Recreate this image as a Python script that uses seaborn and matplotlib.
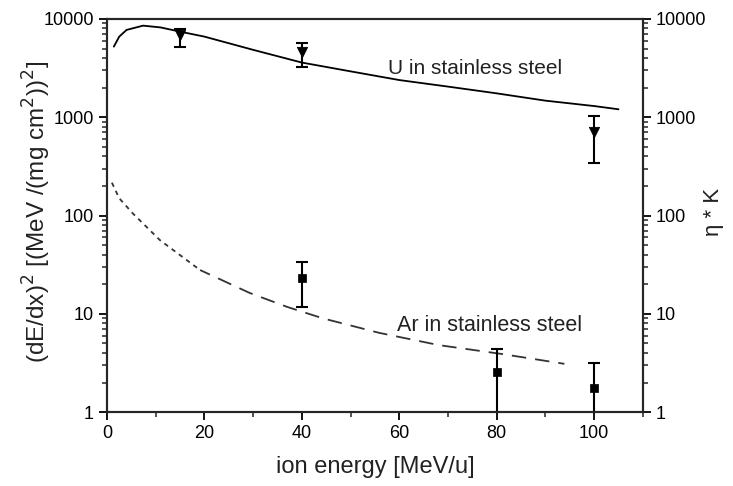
import numpy as np
import pandas as pd
import matplotlib
matplotlib.use("Agg")
import matplotlib.pyplot as plt
import matplotlib.ticker as mticker
import seaborn as sns

# Curves (ion energy in MeV/u)
u_curve_x = [1.4, 2.5, 4, 7.4, 11, 15, 20, 30, 40, 50, 60, 70, 80, 90, 100, 105]
u_curve_y = [5230, 6600, 7730, 8550, 8200, 7430, 6610, 4850, 3600, 2930, 2390, 2050, 1750, 1475, 1300, 1205]

ar_curve_x = [1.0, 2.5, 5.3, 10.9, 19.1, 29.3, 36.9, 44.3, 55.9, 68.2, 81.1, 93.9]
ar_curve_y = [216, 150, 105, 56, 27.9, 16.3, 11.8, 9.0, 6.4, 4.8, 3.9, 3.1]

# Measured points with error bars
u_pts_x = [15, 40, 100]
u_pts_y = [6880, 4650, 713]
u_err_lo = [5230, 3270, 345]
u_err_hi = [7900, 5740, 1030]

ar_pts_x = [40, 80, 100]
ar_pts_y = [23, 2.57, 1.78]
ar_err_lo = [11.8, 0.3, 0.3]
ar_err_hi = [33.4, 4.35, 3.13]

y_ticks = [1, 10, 100, 1000, 10000]
x_ticks = [0, 20, 40, 60, 80, 100]

sns.set_theme(style="ticks")
plt.rcParams['font.family'] = ['Liberation Sans', 'DejaVu Sans']

fig = plt.figure(figsize=(7.33, 4.86), dpi=100)
ax = fig.add_axes([0.146, 0.152, 0.731, 0.809])

u_df = pd.DataFrame({'E': u_curve_x, 'val': u_curve_y})
ar_df = pd.DataFrame({'E': ar_curve_x, 'val': ar_curve_y})
sns.lineplot(data=u_df, x='E', y='val', ax=ax, color='black', lw=1.3, sort=False)
# the Ar curve: fine dashes near the start, longer dashes further out
sns.lineplot(data=ar_df[ar_df['E'] <= 19.1], x='E', y='val', ax=ax, color='#333333',
             lw=1.3, sort=False, linestyle=(0, (2.5, 2.5)))
sns.lineplot(data=ar_df[ar_df['E'] >= 19.1], x='E', y='val', ax=ax, color='#333333',
             lw=1.3, sort=False, linestyle=(2, (8, 5)))

# error bars
u_yerr = [np.array(u_pts_y) - np.array(u_err_lo), np.array(u_err_hi) - np.array(u_pts_y)]
ar_yerr = [np.array(ar_pts_y) - np.array(ar_err_lo), np.array(ar_err_hi) - np.array(ar_pts_y)]
ax.errorbar(u_pts_x, u_pts_y, yerr=u_yerr, fmt='none', ecolor='black',
            elinewidth=1.5, capsize=4, capthick=1.5)
ax.errorbar(ar_pts_x, ar_pts_y, yerr=ar_yerr, fmt='none', ecolor='black',
            elinewidth=1.5, capsize=4, capthick=1.5)
sns.scatterplot(x=u_pts_x, y=u_pts_y, ax=ax, marker='v', s=55, color='black',
                edgecolor='black', zorder=5)
sns.scatterplot(x=ar_pts_x, y=ar_pts_y, ax=ax, marker='s', s=40, color='black',
                edgecolor='black', zorder=5)

ax.set_yscale('log')
ax.set_xlim(0, 110)
ax.set_ylim(1, 10000)

fmt = mticker.FuncFormatter(lambda v, p: f"{v:g}" if v >= 1 else "")
ax.set_yticks(y_ticks)
ax.yaxis.set_major_formatter(fmt)
ax.yaxis.set_minor_locator(mticker.LogLocator(base=10, subs=np.arange(2, 10)))
ax.yaxis.set_minor_formatter(mticker.NullFormatter())
ax.set_xticks(x_ticks)
ax.xaxis.set_minor_locator(mticker.MultipleLocator(10))

for s in ax.spines.values():
    s.set_linewidth(1.5)
    s.set_color('black')
ax.tick_params(which='major', direction='out', length=6, width=1.3, labelsize=13, colors='black')
ax.tick_params(which='minor', direction='out', length=3.5, width=1.1)

ax.set_xlabel('ion energy [MeV/u]', fontsize=17, labelpad=10, color='#222222')
ax.set_ylabel(r'(dE/dx)$^2$ [(MeV /(mg cm$^2$))$^2$]', fontsize=17.5, color='#222222')
ax.yaxis.set_label_coords(-0.10, 0.51)

ax2 = ax.twinx()
ax2.set_yscale('log')
ax2.set_ylim(1, 10000)
ax2.set_yticks(y_ticks)
ax2.yaxis.set_major_formatter(fmt)
ax2.yaxis.set_minor_locator(mticker.LogLocator(base=10, subs=np.arange(2, 10)))
ax2.yaxis.set_minor_formatter(mticker.NullFormatter())
ax2.tick_params(which='major', direction='out', length=6, width=1.3, labelsize=13, colors='black')
ax2.tick_params(which='minor', direction='out', length=3.5, width=1.1)
ax2.set_ylabel('η * K', fontsize=16, color='#222222')
ax2.yaxis.set_label_coords(1.112, 0.51)
for s in ax2.spines.values():
    s.set_linewidth(1.5)

ax.text(57.6, 3160, 'U in stainless steel', fontsize=15, va='center', ha='left', color='#222222')
ax.text(59.6, 7.6, 'Ar in stainless steel', fontsize=15.5, va='center', ha='left', color='#222222')

fig.savefig('out.png', dpi=100)
